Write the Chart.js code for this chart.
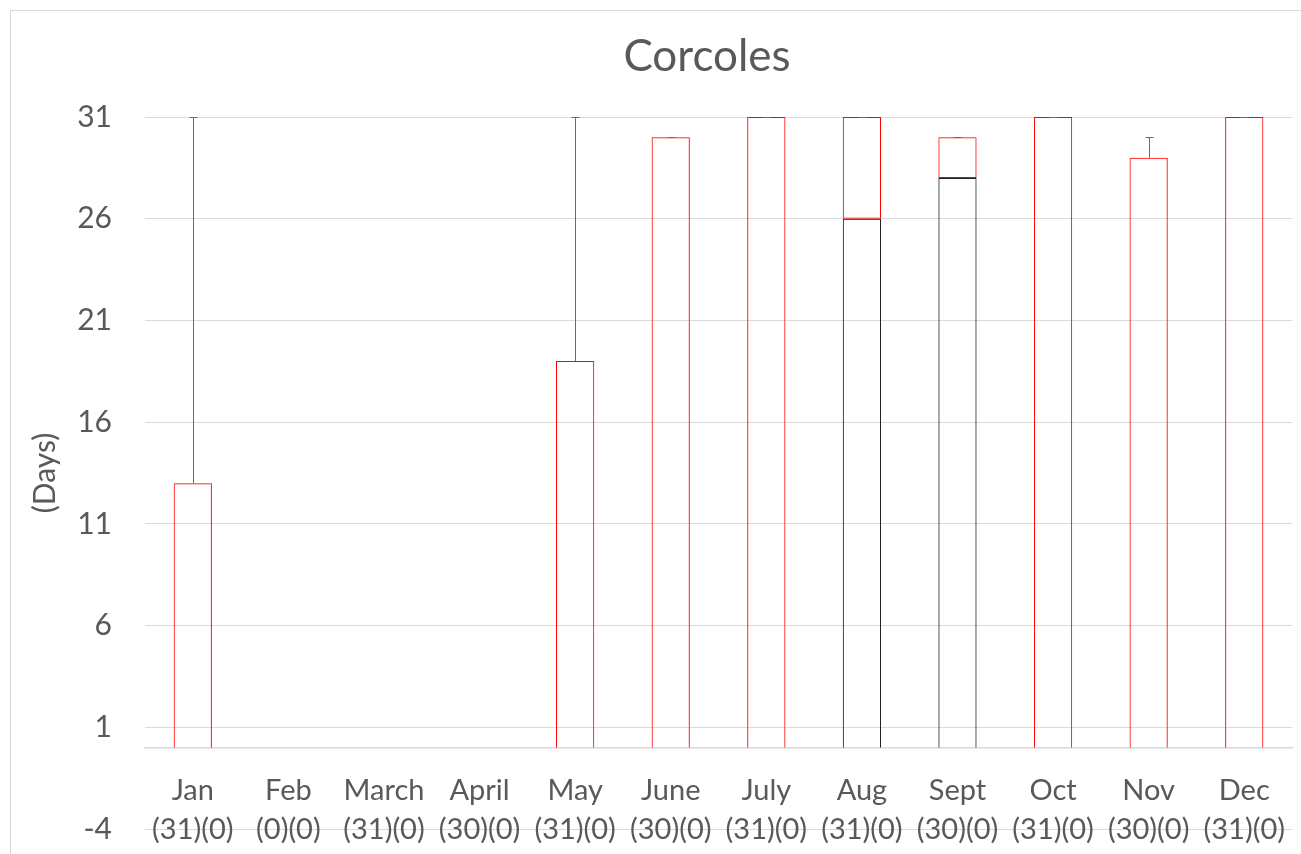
<!DOCTYPE html>
<html><head><meta charset="utf-8">
<script src="https://cdn.jsdelivr.net/npm/chart.js@4/dist/chart.umd.min.js"></script>
<style>
html,body{margin:0;padding:0;background:#fff;overflow:hidden;width:1301px;height:854px}
#frame{position:absolute;left:10px;top:10px;width:1400px;height:1000px;border:1px solid #d9d9d9;box-sizing:border-box}
#wrap{position:absolute;left:0;top:0;width:1301px;height:854px}
</style></head><body>
<div id="frame"></div>
<div id="wrap"><canvas id="c" width="1301" height="854"></canvas></div>
<script>
const chartTitle = 'Corcoles';
const months = ['Jan','Feb','March','April','May','June','July','Aug','Sept','Oct','Nov','Dec'];
const counts = ['(31)(0)','(0)(0)','(31)(0)','(30)(0)','(31)(0)','(30)(0)','(31)(0)','(31)(0)','(30)(0)','(31)(0)','(30)(0)','(31)(0)'];
const baseTop   = [null,null,null,null,null,null,null,26,28,null,null,null];
const boxLow    = [0,null,null,null,0,0,0,26,28,0,0,0];
const boxHigh   = [13,null,null,null,19,30,31,31,30,31,29,31];
const whiskerMax= [31,null,null,null,31,30,31,31,30,31,30,31];
const yTicks = [-4,1,6,11,16,21,26,31];

const TXT = '#595959';
const FONT = 'Lato, "Open Sans", sans-serif';

const whiskers = {
  id: 'whiskers',
  afterDatasetsDraw(chart) {
    const {ctx, scales: {x, y}} = chart;
    ctx.save();
    ctx.strokeStyle = '#6b6b6b';
    ctx.lineWidth = 1;
    whiskerMax.forEach((m, i) => {
      if (m == null || boxHigh[i] == null) return;
      const px = Math.round(x.getPixelForValue(i)) + 0.5;
      const y1 = y.getPixelForValue(boxHigh[i]);
      const y2 = Math.round(y.getPixelForValue(m)) + 0.5;
      ctx.beginPath();
      ctx.moveTo(px, y1);
      ctx.lineTo(px, y2);
      ctx.moveTo(px - 4, y2);
      ctx.lineTo(px + 4, y2);
      ctx.stroke();
    });
    ctx.restore();
  }
};

const titlePlugin = {
  id: 'titleText',
  afterDraw(chart) {
    const ctx = chart.ctx;
    ctx.save();
    ctx.fillStyle = TXT;
    ctx.font = '44px ' + FONT;
    ctx.textAlign = 'center';
    ctx.textBaseline = 'middle';
    ctx.fillText(chartTitle, 707, 57);
    ctx.restore();
  }
};

new Chart(document.getElementById('c'), {
  type: 'bar',
  data: {
    labels: months.map((m, i) => [m, counts[i]]),
    datasets: [
      {
        label: 'box',
        data: boxLow.map((l, i) => boxHigh[i] == null ? null : [l, boxHigh[i]]),
        backgroundColor: 'rgba(255,255,255,0)',
        borderColor: '#ff0000',
        borderWidth: 1,
        borderSkipped: ctx => (boxLow[ctx.dataIndex] === 0 ? 'bottom' : false),
        grouped: false,
        barPercentage: 0.4,
        categoryPercentage: 1
      },
      {
        label: 'base',
        data: baseTop.map(v => v == null ? null : [0, v]),
        backgroundColor: 'rgba(255,255,255,0)',
        borderColor: '#222222',
        borderWidth: 1,
        borderSkipped: 'bottom',
        grouped: false,
        barPercentage: 0.4,
        categoryPercentage: 1
      }
    ]
  },
  options: {
    responsive: false,
    animation: false,
    devicePixelRatio: 1,
    layout: {padding: {top: 117, right: 1, bottom: 25, left: 0}},
    plugins: {
      legend: {display: false},
      tooltip: {enabled: false},
      title: {display: false}
    },
    scales: {
      x: {
        type: 'category',
        position: {y: 0},
        offset: true,
        afterFit: s => { s.height = 0; s.paddingTop = 0; s.paddingBottom = 0; },
        grid: {display: false},
        border: {display: true, color: '#d9d9d9', width: 1.5},
        ticks: {
          color: TXT,
          font: {family: FONT, size: 29, lineHeight: 1.33},
          padding: 16,
          maxRotation: 0,
          autoSkip: false
        }
      },
      y: {
        min: -4,
        max: 31,
        afterBuildTicks: s => { s.ticks = yTicks.map(v => ({value: v})); },
        afterFit: s => { s.width = 145; s.paddingBottom = 0; s.paddingTop = 0; },
        grid: {color: '#d9d9d9', lineWidth: 1, drawTicks: false},
        border: {display: false},
        ticks: {color: TXT, font: {family: FONT, size: 30}, padding: 33},
        title: {
          display: true,
          text: '(Days)',
          color: TXT,
          font: {family: FONT, size: 30},
          padding: {top: 27, bottom: 0}
        }
      }
    }
  },
  plugins: [whiskers, titlePlugin]
});
</script>
</body></html>
